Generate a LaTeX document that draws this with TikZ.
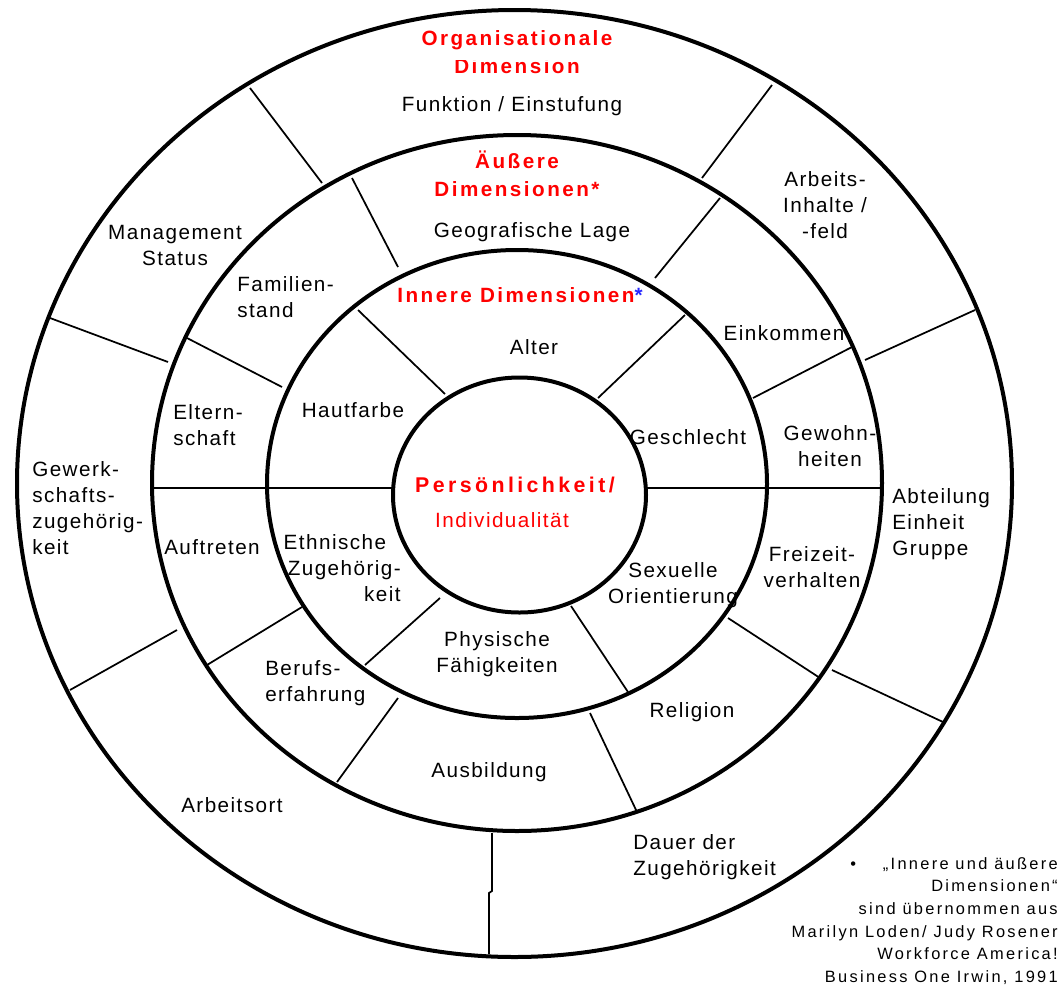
\documentclass[tikz,border=0pt]{standalone}
\usepackage{fontspec}
\setmainfont{Liberation Sans}
\newfontfamily\lblfont[LetterSpace=7]{Liberation Sans}
\newfontfamily\ttlfont[LetterSpace=12]{Liberation Sans}
\newfontfamily\persfont[LetterSpace=16]{Liberation Sans}
\newfontfamily\notefont[LetterSpace=14]{Liberation Sans}
\definecolor{tred}{RGB}{255,0,0}
\definecolor{tblue}{RGB}{40,40,255}
\begin{document}
\begin{tikzpicture}[x=0.75pt,y=-0.75pt,
  ringline/.style={line width=3pt},
  divline/.style={line width=1.3pt},
  lbl/.style={font=\lblfont\fontsize{15.5}{19.5}\selectfont, align=center, inner sep=0pt},
  ttl/.style={font=\ttlfont\bfseries\fontsize{15.5}{21}\selectfont, text=tred, align=center, inner sep=0pt},
  pers/.style={font=\persfont\bfseries\fontsize{16}{20}\selectfont, text=tred, inner sep=0pt},
  note/.style={font=\notefont\fontsize{12.3}{17}\selectfont, align=right, inner sep=0pt}]
\useasboundingbox (0,0) rectangle (1061,990);
\fill[white] (0,0) rectangle (1061,990);

% rings
\draw[ringline] (514.5,483.5) ellipse [x radius=497.5, y radius=473.5];
\draw[ringline] (517,483) ellipse [x radius=365, y radius=348];
\draw[ringline] (517,484) ellipse [x radius=250, y radius=234];
\draw[ringline] (519.5,495) ellipse [x radius=126.5, y radius=117.5];

% outer ring dividers
\draw[divline] (250,88) -- (322,183);
\draw[divline] (50,318) -- (168,362);
\draw[divline] (772,85) -- (702,178);
\draw[divline] (975,310) -- (865,360);
\draw[divline] (943,722) -- (832,670);
\draw[divline] (70,690) -- (177,630);
\draw[divline] (492,833) -- (492,891) -- (489,893) -- (489,954);

% middle ring dividers
\draw[divline] (352,178) -- (398,267);
\draw[divline] (720,198) -- (655,278);
\draw[divline] (187,338) -- (282,387);
\draw[divline] (852,347) -- (753,398);
\draw[divline] (302,607) -- (207,665);
\draw[divline] (398,698) -- (337,782);
\draw[divline] (590,713) -- (637,812);
\draw[divline] (728,618) -- (820,678);
\draw[divline] (152,488) -- (393,488);
\draw[divline] (646,488) -- (882,488);

% inner ring dividers
\draw[divline] (358,310) -- (445,394);
\draw[divline] (685,315) -- (598,398);
\draw[divline] (440,598) -- (365,665);
\draw[divline] (571,606) -- (628,692);

% outer ring labels
\node[ttl] (org1) at (517,40) {Organisationale};
\begin{scope}
\clip (380,60) rectangle (660,80);
\node[ttl] (org2) at (517,66) {Dimension};
\end{scope}
\node[lbl] (funk) at (512,106) {Funktion / Einstufung};
\node[lbl] (mgmt) at (175,245) {Management\\Status};
\node[lbl] (arb) at (825,205) {Arbeits-\\Inhalte /\\-feld};
\node[lbl, align=left, anchor=west] (gew) at (32,508) {Gewerk-\\schafts-\\zugehörig-\\keit};
\node[lbl, align=left, anchor=west] (abt) at (892,524) {Abteilung\\Einheit\\Gruppe};
\node[lbl] (ort) at (232,805) {Arbeitsort};
\node[lbl, align=left, anchor=west] (dauer) at (633,857) {Dauer der\\Zugehörigkeit};

% middle ring labels
\node[ttl] (aus) at (517,174) {Äußere\\Dimensionen*};
\node[lbl] (geo) at (532,232) {Geografische Lage};
\node[lbl, align=left, anchor=west] (fam) at (237,297) {Familien-\\stand};
\node[lbl, align=left, anchor=west] (elt) at (173,425) {Eltern-\\schaft};
\node[lbl] (ein) at (784,333) {Einkommen};
\node[lbl] (gewo) at (830,446) {Gewohn-\\heiten};
\node[lbl] (auft) at (212,547) {Auftreten};
\node[lbl, align=left, anchor=west] (beruf) at (265,683) {Berufs-\\erfahrung};
\node[lbl] (ausb) at (489,772) {Ausbildung};
\node[lbl] (rel) at (692,712) {Religion};
\node[lbl] (frei) at (812,567) {Freizeit-\\verhalten};

% inner ring labels
\node[ttl] (inn) at (520,295) {Innere Dimensionen\textcolor{tblue}{*}};
\node[lbl] (alt) at (534,347) {Alter};
\node[lbl] (haut) at (353,410) {Hautfarbe};
\node[lbl] (ges) at (688,437) {Geschlecht};
\node[lbl, align=right, anchor=east] (eth) at (401,568) {Ethnische\hspace*{11pt}\\Zugehörig-\\keit};
\node[lbl] (phys) at (497,654) {Physische\\Fähigkeiten};
\node[lbl] (sex) at (673,585) {Sexuelle\\Orientierung};

% centre
\node[pers] (pers) at (515,485) {Persönlichkeit/};
\node[lbl, text=tred] (indiv) at (502,520) {Individualität};

% footnote
\node[note, anchor=north east] (fn) at (1058,857) {•\hspace{20pt}„Innere und äußere\\Dimensionen“\\sind übernommen aus\\Marilyn Loden/ Judy Rosener\\Workforce America!\\Business One Irwin, 1991};
\end{tikzpicture}
\end{document}
